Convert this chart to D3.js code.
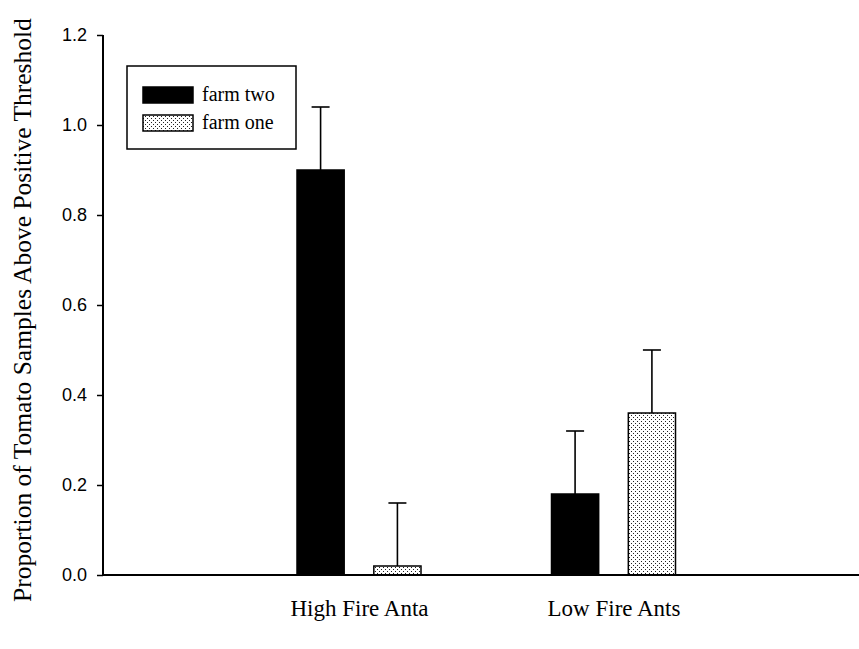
<!DOCTYPE html>
<html>
<head>
<meta charset="utf-8">
<script src="https://cdn.jsdelivr.net/npm/d3@7"></script>
<style>
    body { margin: 0; background: #fff; }
    svg { display: block; }
</style>
</head>
<body>
<svg id="chart"></svg>
<script>
// Data
const categories = ["High Fire Anta", "Low Fire Ants"];
const series = ["farm two", "farm one"];
const farmTwo = [0.90, 0.18];
const farmOne = [0.02, 0.36];
const farmTwoErr = [0.14, 0.14];
const farmOneErr = [0.14, 0.14];
const yTicks = [0.0, 0.2, 0.4, 0.6, 0.8, 1.0, 1.2];

var margin = { top: 35, right: 0, bottom: 74, left: 103 };
var width = 859 - margin.left - margin.right;
var height = 649 - margin.top - margin.bottom;

const svg = d3.select("#chart")
    .attr("width", 859)
    .attr("height", 649);

// dotted fill for farm one
const defs = svg.append("defs");
const pat = defs.append("pattern")
    .attr("id", "dots")
    .attr("patternUnits", "userSpaceOnUse")
    .attr("width", 4)
    .attr("height", 4);
pat.append("rect").attr("width", 4).attr("height", 4).attr("fill", "#fff");
pat.append("rect").attr("x", 0).attr("y", 0).attr("width", 1).attr("height", 1).attr("fill", "#222");
pat.append("rect").attr("x", 2).attr("y", 2).attr("width", 1).attr("height", 1).attr("fill", "#222");

const fills = { "farm two": "#000", "farm one": "url(#dots)" };

const g = svg.append("g")
    .attr("transform", "translate(" + margin.left + "," + margin.top + ")");

// Scales
var x = d3.scalePoint()
    .domain(categories)
    .range([1.5, width + 9])
    .padding(1);

var xSub = d3.scaleBand()
    .domain(series)
    .range([-62, 62])
    .paddingInner(0.386);

var y = d3.scaleLinear()
    .domain([0, 1.2])
    .range([height, 0]);

// Build rows
const rows = [];
categories.forEach((c, i) => {
    rows.push({ cat: c, s: "farm two", v: farmTwo[i], e: farmTwoErr[i] });
    rows.push({ cat: c, s: "farm one", v: farmOne[i], e: farmOneErr[i] });
});

// Error bars (upper only)
const err = g.selectAll(".err")
    .data(rows)
    .enter()
    .append("g")
    .attr("class", "err")
    .attr("stroke", "#000")
    .attr("stroke-width", 1.6);

err.append("line")
    .attr("x1", d => x(d.cat) + xSub(d.s) + xSub.bandwidth() / 2)
    .attr("x2", d => x(d.cat) + xSub(d.s) + xSub.bandwidth() / 2)
    .attr("y1", d => y(d.v))
    .attr("y2", d => y(d.v + d.e));

err.append("line")
    .attr("x1", d => x(d.cat) + xSub(d.s) + xSub.bandwidth() / 2 - 9)
    .attr("x2", d => x(d.cat) + xSub(d.s) + xSub.bandwidth() / 2 + 9)
    .attr("y1", d => y(d.v + d.e))
    .attr("y2", d => y(d.v + d.e));

// Bars
g.selectAll(".bar")
    .data(rows)
    .enter()
    .append("rect")
    .attr("class", "bar")
    .attr("x", d => x(d.cat) + xSub(d.s))
    .attr("y", d => y(d.v))
    .attr("width", xSub.bandwidth())
    .attr("height", d => height - y(d.v))
    .attr("fill", d => fills[d.s])
    .attr("stroke", "#000")
    .attr("stroke-width", 1.5);

// Y axis
const yAxis = g.append("g")
    .call(d3.axisLeft(y).tickValues(yTicks).tickFormat(d3.format(".1f")).tickSize(6).tickPadding(10));
yAxis.select(".domain").attr("stroke-width", 2).attr("d", "M0," + height + "V0");
yAxis.selectAll(".tick line").attr("stroke-width", 1.5);
yAxis.selectAll("text")
    .attr("font-family", "'Liberation Sans', Arial, sans-serif")
    .attr("font-size", 18)
    .attr("fill", "#000");

// X axis line (no ticks)
const xAxis = g.append("g")
    .attr("transform", "translate(0," + height + ")")
    .call(d3.axisBottom(x).tickSize(0).tickPadding(25));
xAxis.select(".domain").attr("stroke-width", 2).attr("d", "M0,0H" + width);
xAxis.selectAll("text")
    .attr("font-family", "'Liberation Serif', 'Times New Roman', serif")
    .attr("font-size", 23)
    .attr("fill", "#000");

// Y axis label
svg.append("text")
    .attr("transform", "rotate(-90)")
    .attr("x", -310)
    .attr("y", 31)
    .attr("text-anchor", "middle")
    .attr("font-family", "'Liberation Serif', 'Times New Roman', serif")
    .attr("font-size", 25.5)
    .text("Proportion of Tomato Samples Above Positive Threshold");

// Legend
const legend = svg.append("g").attr("transform", "translate(127,66)");
legend.append("rect")
    .attr("width", 169)
    .attr("height", 83)
    .attr("fill", "#fff")
    .attr("stroke", "#000")
    .attr("stroke-width", 1.5);
series.forEach((s, i) => {
    legend.append("rect")
        .attr("x", 16)
        .attr("y", 21 + i * 28)
        .attr("width", 50)
        .attr("height", 16)
        .attr("fill", fills[s])
        .attr("stroke", "#000")
        .attr("stroke-width", 1.5);
    legend.append("text")
        .attr("x", 75)
        .attr("y", 35 + i * 28)
        .attr("font-family", "'Liberation Serif', 'Times New Roman', serif")
        .attr("font-size", 20)
        .text(s);
});
</script>
</body>
</html>
